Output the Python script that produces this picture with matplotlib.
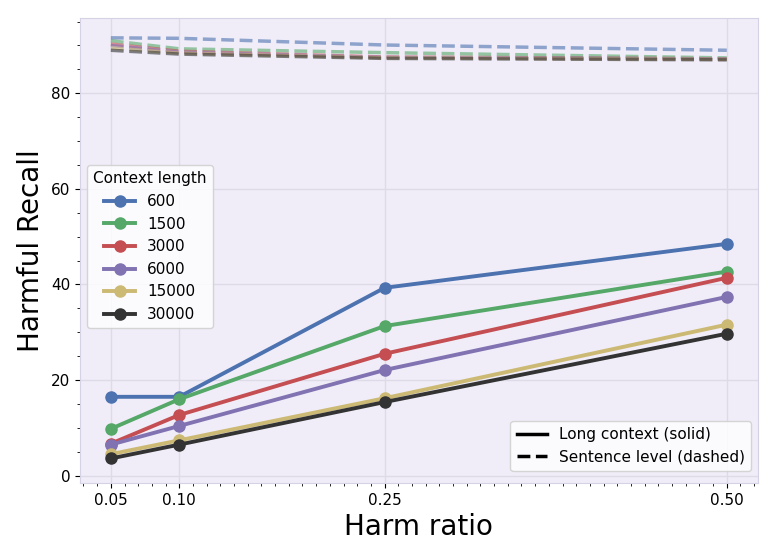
import numpy as np
import matplotlib
matplotlib.use("Agg")
import matplotlib.pyplot as plt
from matplotlib.lines import Line2D
from matplotlib.ticker import MultipleLocator

harm_ratio = [0.05, 0.10, 0.25, 0.50]
context_lengths = ["600", "1500", "3000", "6000", "15000", "30000"]
colors = ["#4C72B0", "#55A868", "#C44E52", "#8172B2", "#CCB974", "#333333"]

# long context (solid)
long_recall = [
    [16.5, 16.5, 39.3, 48.5],
    [9.8, 16.0, 31.3, 42.7],
    [6.7, 12.7, 25.5, 41.4],
    [6.5, 10.4, 22.1, 37.4],
    [4.5, 7.4, 16.2, 31.6],
    [3.6, 6.5, 15.4, 29.7],
]

# sentence level (dashed)
sentence_recall = [
    [91.6, 91.5, 90.1, 89.0],
    [91.0, 89.3, 88.5, 87.4],
    [90.3, 88.8, 87.6, 87.2],
    [90.0, 88.6, 87.5, 87.2],
    [89.5, 88.4, 87.4, 87.1],
    [89.0, 88.2, 87.3, 87.0],
]

fig, ax = plt.subplots(figsize=(7.77, 5.55), dpi=100)
fig.subplots_adjust(left=0.103, right=0.975, bottom=0.13, top=0.968)
ax.set_facecolor("#f0edf8")
for s in ax.spines.values():
    s.set_color("#d6d2e6")
ax.grid(True, color="#dedbe9", linewidth=1.0)
ax.set_axisbelow(True)

handles = []
for name, col, lr, sr in zip(context_lengths, colors, long_recall, sentence_recall):
    h, = ax.plot(harm_ratio, lr, color=col, linewidth=2.8, marker="o", markersize=8, label=name)
    ax.plot(harm_ratio, sr, color=col, linewidth=2.5, linestyle="--", alpha=0.6)
    handles.append(h)

ax.set_ylim(-1.5, 95.8)
ax.set_xticks(harm_ratio)
ax.set_xticklabels(["0.05", "0.10", "0.25", "0.50"])
ax.xaxis.set_minor_locator(MultipleLocator(0.01))
ax.yaxis.set_major_locator(MultipleLocator(20))
ax.yaxis.set_minor_locator(MultipleLocator(5))
ax.tick_params(labelsize=11)
ax.set_xlabel("Harm ratio", fontsize=20)
ax.set_ylabel("Harmful Recall", fontsize=20)

leg1 = ax.legend(handles=handles, title="Context length", loc="upper left",
                 bbox_to_anchor=(0.0103, 0.683), borderaxespad=0,
                 fontsize=11, title_fontsize=11)
ax.add_artist(leg1)

style_handles = [Line2D([0], [0], color="black", linewidth=2.5, linestyle="-"),
                 Line2D([0], [0], color="black", linewidth=2.5, linestyle="--")]
ax.legend(style_handles, ["Long context (solid)", "Sentence level (dashed)"],
          loc="lower right", bbox_to_anchor=(0.991, 0.026), borderaxespad=0,
          fontsize=11)

fig.savefig("out.png", dpi=100)
